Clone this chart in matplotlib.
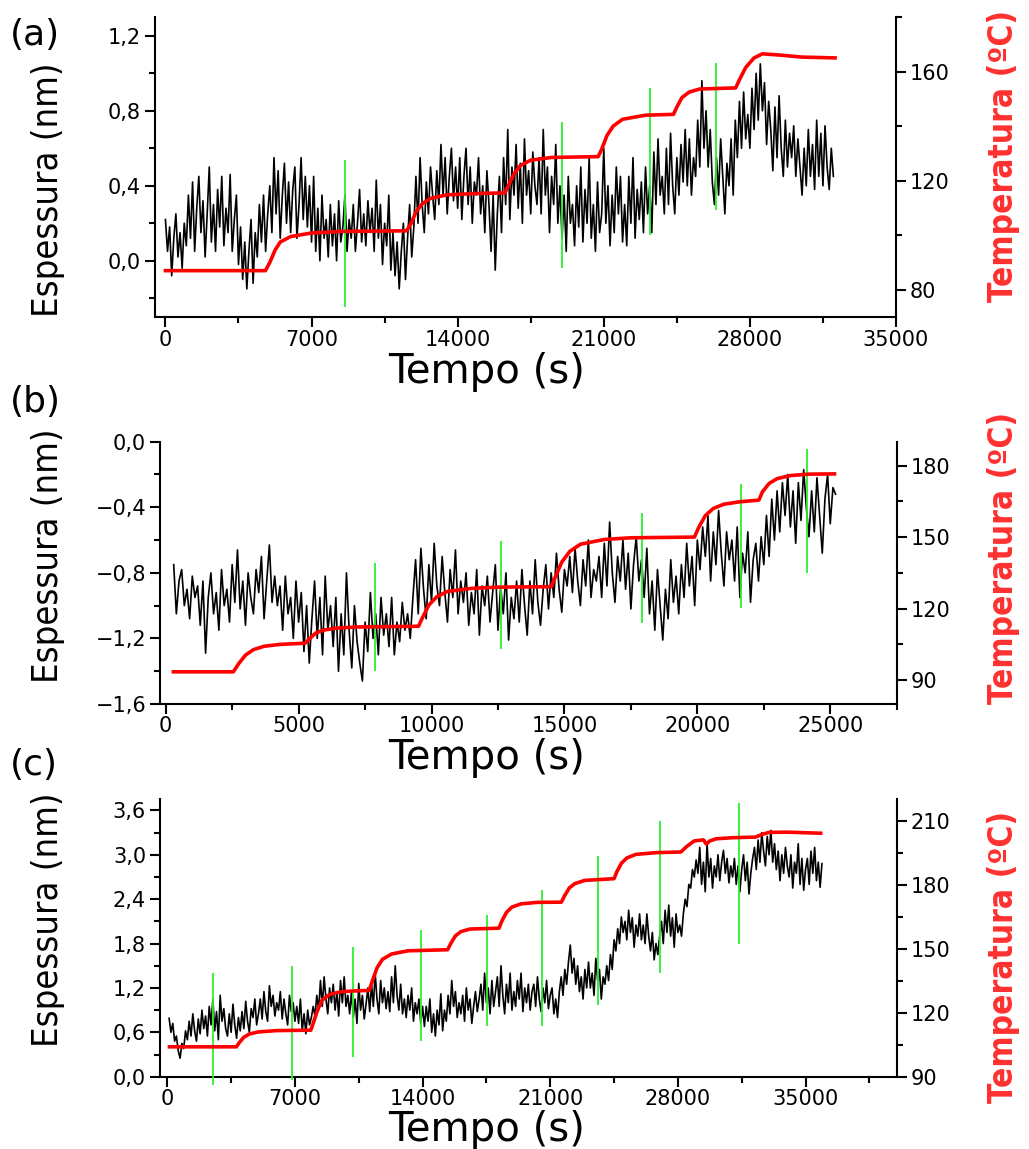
import numpy as np
import matplotlib
matplotlib.use("Agg")
import matplotlib.pyplot as plt
from matplotlib import font_manager

W, H = 1029, 1149

# ---------------- panel (a) ----------------
# thickness (nm), one row per 1000 s, samples every 100 s from 0 s
esp_a_rows = [
    [0.22, 0.05, 0.18, -0.08, 0.12, 0.25, 0.02, 0.15, -0.04, 0.20],
    [0.08, 0.35, 0.12, 0.42, 0.05, 0.28, 0.45, 0.15, 0.32, 0.02],
    [0.25, 0.50, 0.10, 0.30, 0.05, 0.38, 0.18, 0.45, 0.08, 0.28],
    [0.15, 0.46, 0.05, 0.22, 0.35, -0.02, 0.18, -0.10, 0.10, -0.15],
    [0.05, 0.22, -0.12, 0.15, 0.02, 0.30, 0.10, 0.35, 0.05, 0.25],
    [0.40, 0.15, 0.55, 0.25, 0.48, 0.12, 0.35, 0.52, 0.20, 0.42],
    [0.15, 0.38, 0.50, 0.12, 0.30, 0.55, 0.22, 0.45, 0.18, 0.40],
    [0.10, 0.45, 0.05, 0.28, 0.00, 0.35, 0.12, 0.22, 0.02, 0.30],
    [0.08, 0.25, 0.00, 0.32, 0.10, 0.18, 0.35, 0.05, 0.22, 0.12],
    [0.30, 0.05, 0.20, 0.38, 0.10, 0.25, 0.08, 0.32, 0.15, 0.28],
    [0.05, 0.43, 0.12, 0.30, -0.02, 0.20, 0.08, 0.35, -0.05, 0.15],
    [-0.08, 0.10, -0.15, 0.05, 0.20, -0.10, 0.12, 0.30, 0.02, 0.18],
    [0.45, 0.20, 0.55, 0.30, 0.15, 0.42, 0.25, 0.50, 0.35, 0.22],
    [0.48, 0.30, 0.62, 0.35, 0.55, 0.25, 0.45, 0.60, 0.32, 0.50],
    [0.28, 0.55, 0.22, 0.45, 0.60, 0.30, 0.50, 0.20, 0.42, 0.35],
    [0.55, 0.25, 0.40, 0.15, 0.48, 0.30, 0.05, 0.35, -0.05, 0.25],
    [0.45, 0.15, 0.55, 0.30, 0.70, 0.22, 0.50, 0.35, 0.62, 0.28],
    [0.52, 0.20, 0.65, 0.35, 0.48, 0.25, 0.58, 0.40, 0.30, 0.55],
    [0.25, 0.70, 0.35, 0.50, 0.15, 0.45, 0.30, 0.62, 0.20, 0.40],
    [0.12, 0.35, 0.05, 0.45, 0.20, 0.30, 0.08, 0.40, 0.18, 0.50],
    [0.10, 0.38, 0.20, 0.55, 0.12, 0.30, 0.05, 0.42, 0.15, 0.25],
    [0.60, 0.20, 0.40, 0.08, 0.35, 0.15, 0.50, 0.25, 0.45, 0.10],
    [0.30, 0.08, 0.45, 0.20, 0.55, 0.12, 0.38, 0.22, 0.42, 0.15],
    [0.50, 0.25, 0.40, 0.15, 0.58, 0.30, 0.65, 0.35, 0.45, 0.25],
    [0.60, 0.30, 0.68, 0.40, 0.25, 0.55, 0.35, 0.62, 0.42, 0.70],
    [0.40, 0.65, 0.35, 0.55, 0.45, 0.75, 0.50, 0.96, 0.60, 0.80],
    [0.50, 0.70, 0.42, 0.30, 0.55, 0.35, 0.65, 0.45, 0.25, 0.52],
    [0.40, 0.65, 0.35, 0.75, 0.55, 0.85, 0.60, 0.90, 0.65, 0.78],
    [0.60, 0.92, 0.70, 1.00, 0.75, 1.05, 0.80, 0.95, 0.62, 0.85],
    [0.70, 0.48, 0.82, 0.55, 0.88, 0.60, 0.45, 0.75, 0.50, 0.68],
    [0.55, 0.72, 0.45, 0.65, 0.50, 0.35, 0.60, 0.40, 0.70, 0.45],
    [0.62, 0.38, 0.75, 0.45, 0.68, 0.40, 0.72, 0.50, 0.38, 0.60],
    [0.45],
]
esp_a_start, esp_a_end = 0, 32000

temp_a_t = [0, 4790, 5000, 5250, 5500, 6000, 7000, 8500, 11550, 11750, 12000,
            12300, 12700, 13500, 15000, 16260, 16450, 16700, 17000, 17500, 18500,
            20730, 20900, 21150, 21450, 21900, 23000, 24340, 24500, 24750, 25100,
            25600, 27320, 27500, 27800, 28200, 28600, 29500, 30500, 32080]
temp_a_v = [87, 87, 90, 94.5, 97.5, 99.5, 100.8, 101.4, 101.6, 104, 108.5,
            111.5, 113.5, 114.8, 115.3, 115.5, 118.5, 122.5, 125.5, 127.5, 128.5,
            128.8, 131.5, 136.5, 140, 142.5, 144, 144.3, 147, 150.5, 152.5,
            153.6, 154, 157, 161.5, 165, 166.5, 166, 165.3, 165]

green_a_t = [8580, 19000, 23210, 26360]
green_a_lo = [-0.245, -0.04, 0.137, 0.27]
green_a_hi = [0.537, 0.741, 0.919, 1.056]

# ---------------- panel (b) ----------------
# thickness (nm), one row per 1000 s, samples every 100 s from 300 s
esp_b_rows = [
    [-0.75, -1.05, -0.85, -0.78, -1.00, -0.90, -1.08, -0.82, -0.95, -0.88],
    [-1.12, -0.85, -1.29, -0.95, -0.80, -1.05, -0.92, -1.15, -0.78, -1.00],
    [-0.90, -1.10, -0.75, -0.98, -0.66, -1.02, -0.85, -1.12, -0.80, -0.95],
    [-1.05, -0.78, -0.92, -0.70, -1.08, -0.85, -0.63, -0.98, -0.82, -1.00],
    [-0.88, -1.15, -0.82, -1.05, -0.95, -1.20, -0.85, -1.10, -0.92, -1.28],
    [-1.00, -1.35, -1.08, -0.85, -1.20, -0.95, -1.30, -0.82, -1.15, -1.00],
    [-1.25, -0.95, -1.40, -1.05, -1.30, -0.80, -1.15, -1.38, -1.00, -1.22],
    [-1.35, -1.46, -1.10, -1.28, -0.92, -1.20, -1.05, -1.30, -0.95, -1.18],
    [-1.05, -1.25, -0.95, -1.30, -1.10, -1.22, -0.98, -1.15, -1.05, -1.20],
    [-0.95, -0.72, -1.05, -0.65, -0.90, -1.08, -0.75, -0.98, -0.62, -0.88],
    [-1.00, -0.70, -0.92, -1.10, -0.78, -0.95, -0.66, -1.05, -0.85, -0.98],
    [-0.80, -1.12, -0.92, -1.05, -0.78, -1.18, -0.88, -1.00, -0.82, -1.10],
    [-0.92, -0.75, -1.15, -0.88, -1.05, -0.80, -1.21, -0.95, -1.08, -0.85],
    [-1.10, -0.78, -1.00, -1.18, -0.85, -1.05, -0.72, -0.98, -1.12, -0.90],
    [-0.75, -1.02, -0.80, -0.95, -0.68, -0.90, -1.04, -0.78, -0.88, -0.70],
    [-0.92, -0.65, -0.85, -1.00, -0.72, -0.88, -0.60, -0.95, -0.78, -0.85],
    [-0.70, -0.95, -0.62, -0.88, -0.49, -0.80, -0.98, -0.70, -0.85, -0.60],
    [-0.90, -0.68, -1.02, -0.75, -0.58, -0.85, -0.72, -0.95, -0.65, -1.05],
    [-0.85, -1.15, -0.78, -1.00, -1.21, -0.90, -1.08, -0.72, -0.98, -0.82],
    [-1.05, -0.75, -0.95, -0.62, -0.88, -0.70, -1.00, -0.60, -0.78, -0.52],
    [-0.70, -0.45, -0.85, -0.55, -0.75, -0.42, -0.68, -0.88, -0.55, -0.72],
    [-0.60, -0.85, -0.52, -0.95, -0.68, -0.80, -0.55, -0.98, -0.72, -0.62],
    [-0.85, -0.58, -0.75, -0.45, -0.70, -0.35, -0.60, -0.30, -0.55, -0.25],
    [-0.45, -0.20, -0.52, -0.30, -0.62, -0.25, -0.48, -0.17, -0.40, -0.58],
    [-0.30, -0.55, -0.22, -0.45, -0.68, -0.35, -0.20, -0.50, -0.28, -0.32],
]
esp_b_start, esp_b_end = 300, 25200

temp_b_t = [290, 2545, 2750, 3000, 3300, 3700, 4300, 5245, 5400, 5650, 5950,
            6400, 7200, 9510, 9650, 9900, 10200, 10600, 11500, 12500, 14500,
            14650, 14900, 15200, 15600, 16500, 17500, 19890, 20050, 20300, 20600,
            21000, 21600, 22315, 22450, 22700, 23000, 23500, 24200, 25160]
temp_b_v = [93.5, 93.5, 97, 100.5, 102.8, 104.2, 105, 105.5, 107.3, 109.8, 111,
            111.8, 112.3, 112.6, 116, 121.5, 125, 127.2, 128.5, 129, 129.2,
            133, 139.5, 144, 147, 149, 149.7, 150, 154, 159, 162,
            163.8, 164.8, 165.5, 169, 172.5, 174.5, 175.8, 176.4, 176.5]

green_b_t = [7855, 12625, 17920, 21640, 24140]
green_b_lo = [-1.398, -1.262, -1.105, -1.014, -0.798]
green_b_hi = [-0.737, -0.606, -0.434, -0.26, -0.044]

# ---------------- panel (c) ----------------
# thickness (nm), one row per 1000 s, samples every 100 s from 100 s
esp_c_rows = [
    [0.79, 0.60, 0.72, 0.48, 0.55, 0.35, 0.25, 0.45, 0.38, 0.62],
    [0.50, 0.75, 0.55, 0.85, 0.62, 0.48, 0.78, 0.58, 0.90, 0.65],
    [0.82, 0.55, 0.95, 0.70, 1.05, 0.62, 0.88, 0.50, 1.10, 0.75],
    [0.92, 0.65, 0.55, 0.85, 0.60, 0.98, 0.70, 0.52, 0.80, 0.62],
    [0.88, 0.65, 1.02, 0.75, 0.60, 0.92, 0.80, 1.05, 0.70, 0.85],
    [1.05, 0.78, 1.15, 0.88, 0.75, 1.23, 0.95, 1.10, 0.82, 1.00],
    [0.90, 1.15, 0.78, 1.05, 0.85, 0.70, 1.10, 0.88, 1.00, 0.75],
    [0.95, 0.72, 1.05, 0.62, 0.85, 0.58, 0.90, 0.70, 0.80, 0.95],
    [0.82, 1.10, 0.90, 1.30, 0.95, 1.35, 1.05, 0.85, 1.20, 1.00],
    [1.25, 0.90, 1.15, 0.82, 1.30, 1.00, 1.35, 0.95, 1.10, 0.85],
    [1.15, 0.80, 1.05, 0.72, 1.26, 0.90, 1.10, 0.78, 0.98, 1.20],
    [0.88, 1.25, 0.95, 1.40, 1.05, 0.85, 1.30, 1.00, 1.20, 0.92],
    [1.15, 0.88, 1.35, 1.00, 1.50, 1.10, 0.90, 1.25, 0.85, 1.05],
    [0.80, 1.10, 0.90, 1.20, 0.75, 1.00, 0.85, 1.05, 0.72, 0.95],
    [0.68, 0.95, 0.75, 1.05, 0.60, 0.85, 0.55, 0.90, 0.70, 1.12],
    [0.62, 0.90, 0.75, 1.10, 0.85, 1.30, 0.95, 1.15, 0.80, 1.00],
    [0.85, 1.10, 0.75, 1.20, 0.90, 1.05, 0.72, 0.95, 1.15, 0.88],
    [1.05, 1.25, 0.90, 1.40, 1.00, 1.20, 0.85, 1.30, 0.95, 1.15],
    [1.35, 0.95, 1.50, 1.10, 0.85, 1.25, 1.00, 1.40, 0.90, 1.15],
    [0.95, 1.30, 1.05, 1.40, 0.88, 1.20, 1.00, 1.25, 0.90, 1.15],
    [1.25, 0.95, 1.35, 1.05, 0.88, 1.20, 1.00, 1.30, 0.92, 1.10],
    [1.20, 0.85, 1.05, 0.80, 1.15, 1.35, 1.10, 1.45, 1.25, 1.55],
    [1.78, 1.40, 1.60, 1.25, 1.50, 1.15, 1.35, 1.05, 1.45, 1.20],
    [1.55, 1.20, 1.40, 1.10, 1.60, 1.30, 1.45, 1.05, 1.35, 1.25],
    [1.50, 1.30, 1.65, 1.45, 1.85, 1.70, 2.00, 1.80, 2.16, 1.95],
    [2.10, 1.85, 2.25, 1.95, 2.15, 1.75, 2.05, 1.90, 2.20, 1.85],
    [2.05, 1.80, 2.20, 1.90, 1.70, 1.95, 1.58, 1.80, 1.65, 1.90],
    [2.10, 1.80, 2.25, 1.95, 2.32, 1.90, 2.15, 1.75, 2.20, 1.95],
    [2.05, 1.90, 2.20, 2.40, 2.30, 2.60, 2.55, 2.80, 2.70, 2.93],
    [2.75, 3.10, 2.60, 2.90, 2.50, 3.15, 2.70, 2.95, 2.55, 2.85],
    [2.70, 3.00, 2.65, 2.90, 3.06, 2.75, 2.95, 2.62, 2.85, 2.70],
    [2.95, 2.60, 2.85, 2.50, 2.80, 3.00, 2.65, 2.90, 2.47, 2.75],
    [2.95, 3.10, 2.80, 3.20, 2.90, 3.30, 3.05, 2.85, 3.25, 3.00],
    [3.33, 2.90, 3.15, 2.80, 3.05, 2.65, 3.00, 2.75, 3.10, 2.85],
    [2.70, 3.00, 2.55, 2.90, 2.75, 3.15, 2.60, 2.95, 2.52, 2.80],
    [2.95, 2.60, 3.05, 2.75, 3.10, 2.65, 2.90, 2.56, 2.88],
]
esp_c_start, esp_c_end = 100, 35900

temp_c_t = [120, 3790, 3950, 4200, 4500, 5000, 6000, 7870, 8000, 8250, 8500,
            8900, 9500, 10500, 11070, 11250, 11500, 11800, 12300, 13200, 15370,
            15550, 15800, 16100, 16600, 18190, 18350, 18600, 18900, 19400, 20300,
            21610, 21800, 22050, 22350, 22900, 24500, 24650, 24900, 25200, 25700,
            26800, 28160, 28500, 28900, 29400, 29560, 29750, 30100, 31000, 32260,
            32600, 33000, 34000, 35830]
temp_c_v = [104, 104, 106, 108.5, 110, 111, 111.6, 111.8, 115, 121.5, 126,
            128.5, 129.8, 130.3, 130.4, 135, 141, 145, 147.5, 149, 149.5,
            152.5, 156, 158, 159.2, 159.6, 163, 167, 169.5, 171, 171.7,
            171.8, 175, 178.5, 180.5, 182, 182.8, 186, 190, 192.5, 194.2,
            195, 195.3, 198, 200.5, 201, 199, 200.5, 201.5, 202, 202.3,
            203.5, 204.5, 204.6, 204.1]

green_c_t = [2525, 6860, 10190, 13910, 17530, 20550, 23640, 27030, 31330]
green_c_lo = [-0.11, -0.05, 0.26, 0.48, 0.68, 0.68, 0.97, 1.40, 1.80]
green_c_hi = [1.40, 1.49, 1.76, 1.98, 2.18, 2.53, 2.98, 3.46, 3.70]

# fonts for the rotated axis titles (narrow if available)
names = {f.name for f in font_manager.fontManager.ttflist}
if "Liberation Sans Narrow" in names:
    lab_font, lab_stretch, esp_size, temp_size = "Liberation Sans Narrow", "normal", 31, 31
elif any(f.name == "DejaVu Sans" and str(f.stretch) == "condensed"
         for f in font_manager.fontManager.ttflist):
    lab_font, lab_stretch, esp_size, temp_size = "DejaVu Sans", "condensed", 26, 24
else:
    lab_font, lab_stretch, esp_size, temp_size = "DejaVu Sans", "normal", 25, 22

RED = "#ff0000"
LABEL_RED = "#ff3030"
GREEN = "#2cf02c"


def comma(vals):
    return [("%.1f" % v).replace(".", ",").replace("-", "\u2212") for v in vals]


def px(x, y):
    return x / W, 1 - y / H


panels = [
    dict(tag="(a)", rect=(155, 17, 896, 317), rows=esp_a_rows, t0=esp_a_start, t1=esp_a_end,
         tt=temp_a_t, tv=temp_a_v, gt=green_a_t, glo=green_a_lo, ghi=green_a_hi,
         xlim=(-500, 35000), xmaj=np.arange(0, 35001, 7000), xmin=np.arange(3500, 35000, 7000),
         ylim=(-0.3, 1.3), ymaj=[0.0, 0.4, 0.8, 1.2], ymin=[-0.2, 0.2, 0.6, 1.0],
         tlim=(70, 180), tmaj=[80, 120, 160], tmin=[100, 140, 180],
         tag_y=45, xlab_y=383, esp_y=190, temp_y=156),
    dict(tag="(b)", rect=(160, 441.7, 896.7, 704), rows=esp_b_rows, t0=esp_b_start, t1=esp_b_end,
         tt=temp_b_t, tv=temp_b_v, gt=green_b_t, glo=green_b_lo, ghi=green_b_hi,
         xlim=(-215, 27500), xmaj=np.arange(0, 25001, 5000), xmin=np.arange(2500, 27501, 5000),
         ylim=(-1.6, 0.0), ymaj=[-1.6, -1.2, -0.8, -0.4, 0.0], ymin=[-1.4, -1.0, -0.6, -0.2],
         tlim=(80, 190), tmaj=[90, 120, 150, 180], tmin=[105, 135, 165],
         tag_y=412, xlab_y=769, esp_y=556, temp_y=558),
    dict(tag="(c)", rect=(160, 799.3, 896.7, 1076.7), rows=esp_c_rows, t0=esp_c_start, t1=esp_c_end,
         tt=temp_c_t, tv=temp_c_v, gt=green_c_t, glo=green_c_lo, ghi=green_c_hi,
         xlim=(-400, 40000), xmaj=np.arange(0, 35001, 7000), xmin=np.arange(3500, 40000, 7000),
         ylim=(0, 3.75), ymaj=[0.0, 0.6, 1.2, 1.8, 2.4, 3.0, 3.6], ymin=[0.3, 0.9, 1.5, 2.1, 2.7, 3.3],
         tlim=(90, 220), tmaj=[90, 120, 150, 180, 210], tmin=[105, 135, 165, 195],
         tag_y=775, xlab_y=1141, esp_y=920, temp_y=957),
]

fig = plt.figure(figsize=(W / 100, H / 100), dpi=100)

for p in panels:
    x0, y0, x1, y1 = p["rect"]
    ax = fig.add_axes([x0 / W, 1 - y1 / H, (x1 - x0) / W, (y1 - y0) / H])

    esp = np.concatenate([np.array(r, dtype=float) for r in p["rows"]])
    t = np.linspace(p["t0"], p["t1"], len(esp))
    ax.plot(t, esp, color="black", lw=1.2, zorder=2)
    ax.vlines(p["gt"], p["glo"], p["ghi"], color=GREEN, lw=1.3, zorder=3, clip_on=False)

    ax.set_xlim(*p["xlim"])
    ax.set_ylim(*p["ylim"])
    ax.set_xticks(p["xmaj"])
    ax.set_xticks(p["xmin"], minor=True)
    ax.set_yticks(p["ymaj"])
    ax.set_yticklabels(comma(p["ymaj"]))
    ax.set_yticks(p["ymin"], minor=True)

    ax2 = ax.twinx()
    ax2.plot(p["tt"], p["tv"], color=RED, lw=2.6, zorder=4)
    ax2.set_ylim(*p["tlim"])
    ax2.set_yticks(p["tmaj"])
    ax2.set_yticks(p["tmin"], minor=True)

    for a in (ax, ax2):
        a.spines["top"].set_visible(False)
        for s in a.spines.values():
            s.set_linewidth(1.5)
        a.tick_params(which="both", direction="out", width=1.5, labelsize=15)
        a.tick_params(which="major", length=7)
        a.tick_params(which="minor", length=4)
    ax.tick_params(axis="x", pad=2)
    ax.tick_params(axis="y", pad=3)
    ax2.tick_params(axis="y", pad=3)
    ax.spines["right"].set_visible(False)
    ax2.spines["left"].set_visible(False)
    ax2.spines["bottom"].set_visible(False)

    fig.text(*px(10, p["tag_y"]), p["tag"], fontsize=26, ha="left", va="baseline")
    fig.text(*px(487, p["xlab_y"]), "Tempo (s)", fontsize=29, ha="center", va="baseline")
    fig.text(*px(48, p["esp_y"]), "Espessura (nm)", fontsize=esp_size, rotation=90,
             ha="center", va="center", family=lab_font, fontstretch=lab_stretch)
    fig.text(*px(1004, p["temp_y"]), "Temperatura (ºC)", fontsize=temp_size, rotation=90,
             ha="center", va="center", color=LABEL_RED, fontweight="bold",
             family=lab_font, fontstretch=lab_stretch)

fig.savefig("out.png", dpi=100)
